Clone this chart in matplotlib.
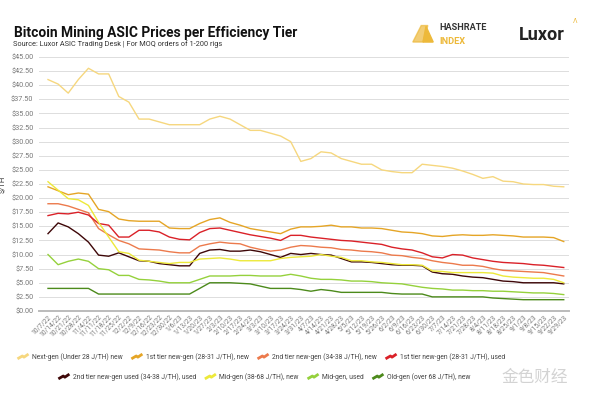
import matplotlib
matplotlib.use("Agg")
import matplotlib.pyplot as plt
import numpy as np
from matplotlib.lines import Line2D
from matplotlib.legend_handler import HandlerBase
from matplotlib.patches import Polygon

plt.rcParams['font.family'] = ['Roboto', 'DejaVu Sans']

dates = ["10/7/22", "10/14/22", "10/21/22", "10/28/22", "11/4/22", "11/11/22", "11/18/22",
         "11/25/22", "12/2/22", "12/9/22", "12/16/22", "12/23/22", "12/30/22", "1/6/23",
         "1/13/23", "1/20/23", "1/27/23", "2/3/23", "2/10/23", "2/17/23", "2/24/23", "3/3/23",
         "3/10/23", "3/17/23", "3/24/23", "3/31/23", "4/7/23", "4/14/23", "4/21/23", "4/28/23",
         "5/5/23", "5/12/23", "5/19/23", "5/26/23", "6/2/23", "6/9/23", "6/16/23", "6/23/23",
         "6/30/23", "7/7/23", "7/14/23", "7/21/23", "7/28/23", "8/4/23", "8/11/23", "8/18/23",
         "8/25/23", "9/1/23", "9/8/23", "9/15/23", "9/22/23", "9/29/23"]

next_gen_new = [41, 40.2, 38.6, 41, 43, 42, 42, 38, 37, 34, 34, 33.5, 33, 33, 33, 33, 34, 34.5,
                34, 33, 32, 32, 31.5, 31, 30, 26.5, 27, 28.2, 28, 27, 26.5, 26, 26, 25, 24.7,
                24.5, 24.5, 26, 25.8, 25.6, 25.3, 24.8, 24.2, 23.5, 23.8, 23, 22.9, 22.5, 22.4,
                22.4, 22.1, 22]
tier1_new = [22, 21.3, 20.6, 20.9, 20.7, 18, 17.6, 16.3, 16, 15.9, 15.9, 15.9, 14.7, 14.6,
             14.6, 15.5, 16.2, 16.5, 15.7, 15.2, 14.6, 14.3, 14, 13.7, 14.5, 14.9, 14.9,
             15, 15.2, 14.9, 14.9, 14.7, 14.7, 14.6, 14.3, 14, 13.9, 13.7, 13.3, 13.2,
             13.4, 13.5, 13.4, 13.4, 13.5, 13.4, 13.3, 13.1, 13.1, 13.1, 13, 12.3]
tier2_new = [19, 19, 18.6, 18, 17.4, 14.6, 13.5, 12.5, 11.9, 11, 10.9, 10.8, 10.5, 10.3,
             10.3, 11.5, 11.9, 12.2, 12, 11.9, 11.3, 10.9, 10.6, 10.8, 11.3, 11.6, 11.5,
             11.3, 11.2, 10.9, 10.8, 10.6, 10.5, 10.3, 9.9, 9.8, 9.5, 9.3, 8.9, 8.6,
             8.4, 8.1, 8.1, 7.9, 7.5, 7.2, 7.1, 7, 6.9, 6.8, 6.5, 6.2]
tier1_used = [16.9, 17.3, 17.2, 17.5, 17, 15.5, 15.2, 13.1, 13.1, 14.3, 14.3, 14, 13.1, 12.7,
              12.6, 13.9, 14.6, 14.7, 14.3, 13.9, 13.5, 13.2, 12.9, 12.5, 13.4, 13.4, 13.1,
              12.9, 12.7, 12.5, 12.4, 12.2, 12, 11.8, 11.3, 11, 10.8, 10.3, 9.6, 9.4,
              10, 9.9, 9.4, 9.1, 8.8, 8.6, 8.5, 8.4, 8.2, 8.1, 7.9, 7.7]
tier2_used = [13.7, 15.6, 14.9, 13.7, 12.2, 9.9, 9.7, 10.3, 9.6, 8.9, 8.8, 8.4, 8.2, 8,
              8, 10.2, 10.8, 10.9, 10.6, 10.6, 10.8, 10.5, 10, 9.5, 10.2, 10, 10.2,
              10, 9.9, 9.3, 8.7, 8.7, 8.6, 8.4, 8.2, 8.1, 8.1, 8, 6.9, 6.6,
              6.5, 6.2, 6, 5.9, 5.6, 5.3, 5.2, 5, 5, 5, 5, 4.8]
mid_new = [22.9, 21.4, 19.9, 19.7, 18.7, 15.7, 13.1, 10.5, 10.2, 9, 8.8, 8.6, 8.4, 8.6,
           8.6, 9.2, 9.3, 9.4, 9.2, 8.9, 8.9, 8.9, 8.9, 9.3, 9.5, 9.6, 9.7,
           10, 9.7, 9.5, 8.9, 8.9, 8.7, 8.6, 8.4, 8.2, 8.2, 8.1, 7.1, 7,
           6.8, 6.8, 6.8, 6.8, 6.7, 6.2, 6, 5.9, 5.8, 5.8, 5.6, 5]
mid_used = [10, 8.2, 8.8, 9.2, 8.8, 7.5, 7.3, 6.3, 6.3, 5.6, 5.5, 5.3, 5, 5,
            5, 5.6, 6.2, 6.2, 6.2, 6.3, 6.3, 6.2, 6.2, 6.2, 6.5, 6.2, 5.8,
            5.6, 5.6, 5.5, 5.3, 5.3, 5.2, 5, 4.9, 4.8, 4.5, 4.2, 4, 3.9,
            3.7, 3.7, 3.6, 3.6, 3.5, 3.5, 3.4, 3.3, 3.2, 3.2, 3.1, 2.9]
old_gen = [4, 4, 4, 4, 4, 3, 3, 3, 3, 3, 3, 3, 3, 3,
           3, 4, 5, 5, 5, 4.9, 4.8, 4.4, 4, 4, 4, 3.8, 3.5,
           3.8, 3.6, 3.3, 3.3, 3.3, 3.3, 3.3, 3.1, 3, 3, 3, 2.5, 2.5,
           2.5, 2.5, 2.5, 2.5, 2.3, 2.2, 2.1, 2, 2, 2, 2, 2]

series_labels = ["Next-gen (Under 28 J/TH) new", "1st tier new-gen (28-31 J/TH), new",
                 "2nd tier new-gen (34-38 J/TH), new", "1st tier new-gen (28-31 J/TH), used",
                 "2nd tier new-gen used (34-38 J/TH), used", "Mid-gen (38-68 J/TH), new",
                 "Mid-gen, used", "Old-gen (over 68 J/TH), new"]
series_values = [next_gen_new, tier1_new, tier2_new, tier1_used,
                 tier2_used, mid_new, mid_used, old_gen]
colors = ["#F6D77E", "#E5A526", "#EC7A4C", "#DA2128",
          "#3E0708", "#EDE93A", "#95D13C", "#4C8A1B"]

yticks = np.arange(0, 45.01, 2.5)

fig = plt.figure(figsize=(6, 3.93), dpi=100)
ax = fig.add_axes([0.065, 0.2087, 0.883, 0.6463])

x = np.arange(len(dates))
for vals, c, lab in zip(series_values, colors, series_labels):
    ax.plot(x, vals, color=c, lw=1.0, label=lab, solid_joinstyle='round')

ax.set_ylim(0, 45)
ax.set_xlim(-0.89, len(dates) - 0.5)
ax.set_yticks(yticks)
ax.set_yticklabels([f"${v:.2f}" for v in yticks], fontsize=5.2, color="#777777")
ax.yaxis.grid(True, color="#DDDDDD", lw=0.7)
ax.set_axisbelow(True)
ax.set_xticks(x)
ax.set_xticklabels(dates, rotation=45, ha='right', rotation_mode='anchor',
                   fontsize=4.8, color="#777777")
ax.tick_params(axis='both', length=0, pad=2)
ax.tick_params(axis='y', pad=4)
for s in ['top', 'right', 'left']:
    ax.spines[s].set_visible(False)
ax.spines['bottom'].set_color("#BBBBBB")
ax.spines['bottom'].set_linewidth(1.4)
ax.set_ylabel("$/TH", fontsize=5.5, color="#333333", labelpad=4)

# Titles
fig.text(0.023, 0.915, "Bitcoin Mining ASIC Prices per Efficiency Tier", fontsize=9.9,
         fontweight='bold', color="#111111", va='center')
fig.text(0.021, 0.887, "Source: Luxor ASIC Trading Desk | For MOQ orders of 1-200 rigs",
         fontsize=5.3, color="#333333", va='center')

# Logos
gold = "#EDB93A"
fig.patches.append(Polygon([[0.688, 0.893], [0.705, 0.893], [0.713, 0.935], [0.702, 0.935]],
                           closed=True, transform=fig.transFigure, color=gold, alpha=0.7))
fig.patches.append(Polygon([[0.705, 0.893], [0.722, 0.893], [0.710, 0.933]],
                           closed=True, transform=fig.transFigure, color=gold))
fig.text(0.733, 0.93, "HASHRATE", fontsize=6.6, fontweight='bold', color="#333333",
         va='center')
fig.text(0.733, 0.895, "INDEX", fontsize=6.6, fontweight='bold', color=gold, va='center')
fig.text(0.865, 0.912, "Luxor", fontsize=13, fontweight='bold', color="#222222",
         va='center')
fig.text(0.955, 0.945, "\u039b", fontsize=5, color=gold, va='center')


class ZigHandler(HandlerBase):
    def create_artists(self, legend, orig_handle, xdescent, ydescent, width, height,
                       fontsize, trans):
        xs = np.array([0.05, 0.45, 0.58, 0.95]) * width - xdescent
        ys = np.array([0.0, 0.6, 0.35, 1.0]) * height - ydescent
        ln = Line2D(xs, ys, color=orig_handle.get_color(), lw=2.0, transform=trans,
                    solid_capstyle='butt')
        return [ln]


handles = ax.get_lines()
hmap = {h: ZigHandler() for h in handles}
leg1 = fig.legend(handles[:4], series_labels[:4], loc='center', ncol=4,
                  bbox_to_anchor=(0.435, 0.092), frameon=False, fontsize=4.9,
                  handlelength=1.8, handletextpad=0.4, columnspacing=1.2,
                  handler_map=hmap, labelcolor="#444444")
leg2 = fig.legend(handles[4:], series_labels[4:], loc='center', ncol=4,
                  bbox_to_anchor=(0.44, 0.041), frameon=False, fontsize=4.9,
                  handlelength=1.8, handletextpad=0.4, columnspacing=1.2,
                  handler_map=hmap, labelcolor="#444444")

# Watermark
fig.text(0.835, 0.04, "金色财经", fontsize=12, color="#C8C8C8", alpha=0.8,
         family=['Noto Sans CJK SC', 'DejaVu Sans'], va='center')

fig.savefig("out.png", dpi=100)
